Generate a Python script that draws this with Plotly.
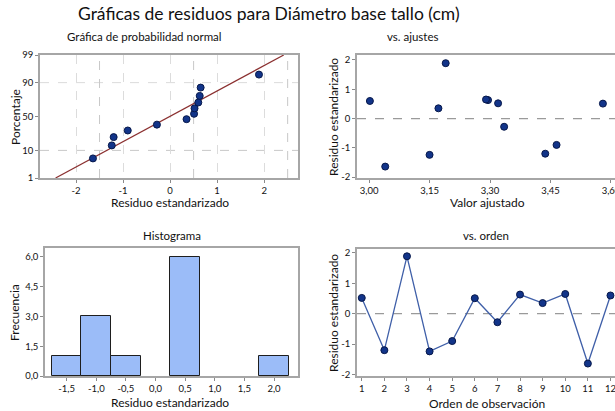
import plotly.graph_objects as go
from statistics import NormalDist

# ---- data ----
order = list(range(1, 13))
residuals = [0.52, -1.20, 1.89, -1.24, -0.90, 0.51, -0.28, 0.63, 0.35, 0.65, -1.64, 0.60]
fitted = [3.320, 3.437, 3.190, 3.150, 3.465, 3.580, 3.335, 3.295, 3.172, 3.290, 3.040, 3.002]

prob_ticks = [1, 10, 50, 90, 99]
prob_ticktext = ["1", "10", "50", "90", "99"]
np_xticks = [-2, -1, 0, 1, 2]
np_xticktext = ["-2", "-1", "0", "1", "2"]
fit_ticks = [3.00, 3.15, 3.30, 3.45, 3.60]
fit_ticktext = ["3,00", "3,15", "3,30", "3,45", "3,60"]
res_ticks = [-2, -1, 0, 1, 2]
res_ticktext = ["-2", "-1", "0", "1", "2"]
hist_xticks = [-1.5, -1.0, -0.5, 0.0, 0.5, 1.0, 1.5, 2.0]
hist_xticktext = ["-1,5", "-1,0", "-0,5", "0,0", "0,5", "1,0", "1,5", "2,0"]
hist_yticks = [0, 1.5, 3.0, 4.5, 6.0]
hist_yticktext = ["0,0", "1,5", "3,0", "4,5", "6,0"]

title = "Gráficas de residuos para Diámetro base tallo (cm)"

# ---- derived quantities for the normal probability plot ----
nd = NormalDist()
n = len(residuals)
sorted_res = sorted(residuals)
z_pts = [nd.inv_cdf((i - 0.3) / (n + 0.4)) for i in range(1, n + 1)]
mean = sum(residuals) / n
sd = (sum((r - mean) ** 2 for r in residuals) / (n - 1)) ** 0.5
z_lo, z_hi = nd.inv_cdf(0.01), nd.inv_cdf(0.99)
line_z = [z_lo, z_hi]
line_x = [mean + sd * z for z in line_z]
prob_z = [nd.inv_cdf(p / 100) for p in prob_ticks]

W, H = 615, 411
FONT = "Lato"
FRAME = "#A6A6A6"
MARK = dict(size=7, color="#123489", line=dict(color="#07184A", width=1))

fig = go.Figure()
fig.add_trace(go.Scatter(x=line_x, y=line_z, mode="lines",
                         line=dict(color="#8B3030", width=1.2), xaxis="x", yaxis="y"))
fig.add_trace(go.Scatter(x=sorted_res, y=z_pts, mode="markers", marker=MARK,
                         xaxis="x", yaxis="y"))
fig.add_trace(go.Scatter(x=fitted, y=residuals, mode="markers", marker=MARK,
                         xaxis="x2", yaxis="y2"))
fig.add_trace(go.Histogram(x=residuals, xbins=dict(start=-1.75, end=2.25, size=0.5),
                           marker=dict(color="#9BBCF8", line=dict(color="#1E1E1E", width=1)),
                           xaxis="x3", yaxis="y3"))
fig.add_trace(go.Scatter(x=order, y=residuals, mode="lines+markers", marker=MARK,
                         line=dict(color="#3F5FA8", width=1.3), xaxis="x4", yaxis="y4"))


def px_x(p):
    return p / W


def px_y(p):
    return 1 - p / H


base = dict(showline=True, linecolor=FRAME, linewidth=1.5, ticks="outside", ticklen=3,
            tickcolor="#8A8A8A", tickfont=dict(size=9.5, color="#111111", family=FONT),
            zeroline=False, showgrid=False, fixedrange=True, ticklabeloverflow="allow",
            automargin=False)

fig.update_layout(
    width=W, height=H, margin=dict(l=0, r=0, t=0, b=0),
    paper_bgcolor="white", plot_bgcolor="white", showlegend=False,
    font=dict(family=FONT, color="#111111"),
    bargap=0,
    xaxis=dict(base, domain=[px_x(40), px_x(298)], range=[-2.766, 2.72], mirror=True,
               tickvals=np_xticks, ticktext=np_xticktext, anchor="y",
               showgrid=True, gridcolor="#DCDCDC", griddash="dash", gridwidth=1),
    yaxis=dict(base, domain=[px_y(178), px_y(55)], range=[z_lo, z_hi], mirror=True,
               tickvals=prob_z, ticktext=prob_ticktext, anchor="x"),
    xaxis2=dict(base, domain=[px_x(357), 1.0], range=[2.970, 3.61], mirror=True,
                tickvals=fit_ticks, ticktext=fit_ticktext, anchor="y2"),
    yaxis2=dict(base, domain=[px_y(178), px_y(55)], range=[-2.03, 2.17],
                tickvals=res_ticks, ticktext=res_ticktext, anchor="x2"),
    xaxis3=dict(base, domain=[px_x(45), px_x(298)], range=[-1.866, 2.405], mirror=True,
                tickvals=hist_xticks, ticktext=hist_xticktext, anchor="y3"),
    yaxis3=dict(base, domain=[px_y(376), px_y(248)], range=[0, 6.44], mirror=True,
                tickvals=hist_yticks, ticktext=hist_yticktext, anchor="x3"),
    xaxis4=dict(base, domain=[px_x(357), 1.0], range=[0.79, 12.2], mirror=True,
                tickvals=order, ticktext=[str(o) for o in order], anchor="y4"),
    yaxis4=dict(base, domain=[px_y(376), px_y(249)], range=[-2.05, 2.13],
                tickvals=res_ticks, ticktext=res_ticktext, anchor="x4"),
)

# reference / grid lines
shapes = []
for pv, col in [(10, "#C8C8C8"), (90, "#DCDCDC")]:
    zv = nd.inv_cdf(pv / 100)
    shapes.append(dict(type="line", xref="x domain", yref="y", x0=0, x1=1, y0=zv, y1=zv,
                       line=dict(color=col, width=1, dash="dash"), layer="below"))
for xv in [-1.5, 0.5, 2.5]:
    shapes.append(dict(type="line", xref="x", yref="y domain", x0=xv, x1=xv, y0=0, y1=1,
                       line=dict(color="#C8C8C8", width=1, dash="dash"), layer="below"))
for ax in ["2", "4"]:
    shapes.append(dict(type="line", xref=f"x{ax} domain", yref=f"y{ax}", x0=0, x1=1, y0=0, y1=0,
                       line=dict(color="#9A9A9A", width=1.3, dash="dash"), layer="below"))
fig.update_layout(shapes=shapes)


def txt(text, x, y, size, angle=0, weight="normal"):
    fig.add_annotation(text=text, x=px_x(x), y=px_y(y), xref="paper", yref="paper",
                       showarrow=False, textangle=angle, xanchor="center", yanchor="middle",
                       font=dict(size=size, family=FONT, color="#111111", weight=weight))


txt(title, 269, 14, 17.5)
txt("Gráfica de probabilidad normal", 144, 36, 11.5)
txt("vs. ajustes", 412, 36, 11.5)
txt("Histograma", 172, 235, 11.5)
txt("vs. orden", 486, 235, 11.5)
txt("Residuo estandarizado", 170, 203, 12)
txt("Valor ajustado", 487, 203, 12)
txt("Residuo estandarizado", 170, 402, 12)
txt("Orden de observación", 487, 403, 12)
txt("Porcentaje", 15, 117, 12, angle=-90)
txt("Residuo estandarizado", 333, 117, 12, angle=-90)
txt("Frecuencia", 14, 313, 12, angle=-90)
txt("Residuo estandarizado", 333, 313, 12, angle=-90)

fig.write_html("out.html", config={"displayModeBar": False},
               post_script="document.body.style.margin='0';document.body.style.overflow='hidden';")
